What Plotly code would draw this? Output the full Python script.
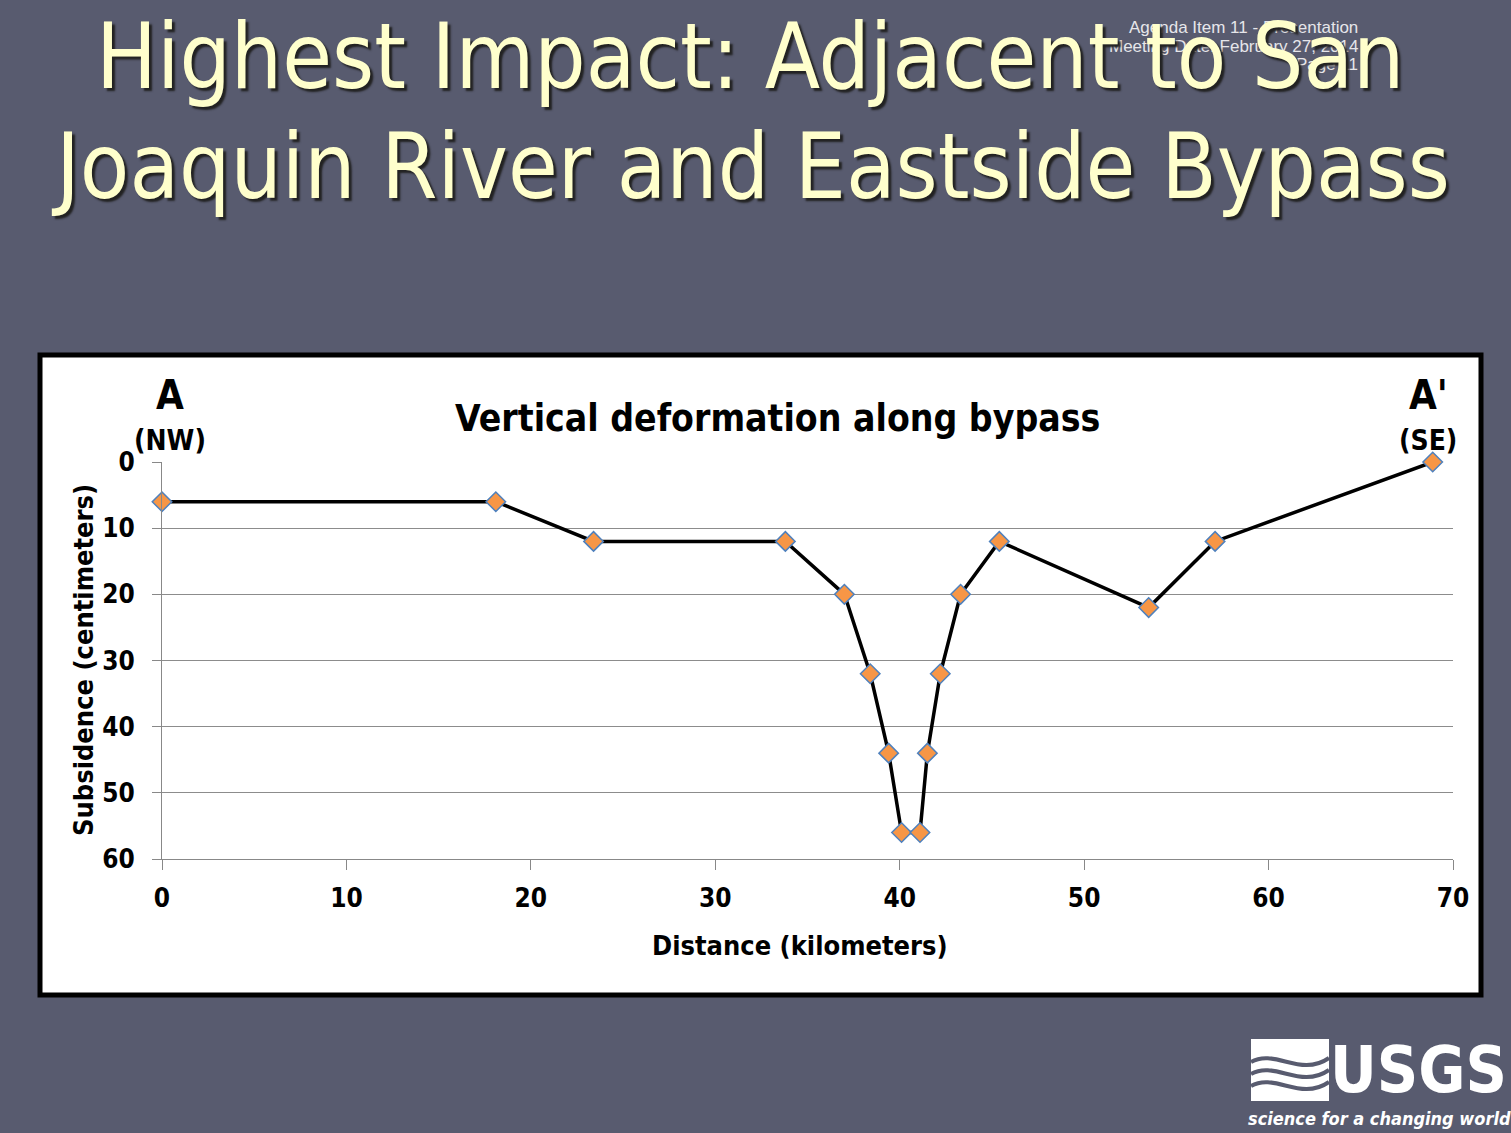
import plotly.graph_objects as go

# ---- data ----
distance_km = [0, 18.1, 23.4, 33.8, 37.0, 38.4, 39.4, 40.1, 41.1, 41.5, 42.2, 43.3, 45.4, 53.5, 57.1, 68.9]
subsidence_cm = [6, 6, 12, 12, 20, 32, 44, 56, 56, 44, 32, 20, 12, 22, 12, 0]
x_ticks = [0, 10, 20, 30, 40, 50, 60, 70]
y_ticks = [0, 10, 20, 30, 40, 50, 60]

W, H = 1511, 1133
L, R, T, B = 162, 1453, 462, 859   # plot area in pixels

def px(x):
    return (x - L) / (R - L)

def py(y):
    return (B - y) / (B - T)

BG = "#585B6F"
CHART_FONT = "Liberation Sans Narrow, DejaVu Sans Condensed, Arial Narrow, sans-serif"
TITLE_FONT = "DejaVu Sans Condensed, Tahoma, DejaVu Sans, sans-serif"

fig = go.Figure()
fig.add_trace(go.Scatter(
    x=distance_km, y=subsidence_cm, mode="lines+markers",
    line=dict(color="black", width=3.5),
    marker=dict(symbol="diamond", size=15, color="#F79646",
                line=dict(color="#4F81BD", width=1.5)),
    showlegend=False, cliponaxis=False,
))

shapes = [
    dict(type="rect", xref="paper", yref="paper", layer="below",
         x0=px(40), x1=px(1481), y0=py(995), y1=py(355),
         fillcolor="white", line=dict(color="black", width=5)),
    # USGS icon box
    dict(type="rect", xref="paper", yref="paper", layer="above",
         x0=px(1251), x1=px(1329), y0=py(1101), y1=py(1039),
         fillcolor="white", line=dict(width=0)),
]
# waves in the USGS icon (decoration)
for dy in (0, 12, 24):
    y0 = 1062 + dy
    path = (f"M {px(1251)} {py(y0)} "
            f"C {px(1275)} {py(y0-14)}, {px(1300)} {py(y0+16)}, {px(1329)} {py(y0-4)}")
    shapes.append(dict(type="path", xref="paper", yref="paper", layer="above",
                       path=path, line=dict(color=BG, width=4)))

annotations = []

def ann(text, x, y, size, color="black", font=CHART_FONT, xanchor="center",
        yanchor="middle", textangle=0, shadow=None, bold=True, italic=False):
    f = dict(family=font, size=size, color=color,
             weight="bold" if bold else "normal",
             style="italic" if italic else "normal")
    if shadow:
        f["shadow"] = shadow
    annotations.append(dict(text=text, x=px(x), y=py(y), xref="paper", yref="paper",
                            xanchor=xanchor, yanchor=yanchor, showarrow=False,
                            font=f, textangle=textangle))

# small header text (behind the title)
HDR = "Liberation Sans, Arial, sans-serif"
ann("Agenda Item 11 - Presentation", 1360, 27, 17, color="#E6E6EA",
    font=HDR, xanchor="right", bold=False)
ann("Meeting Date: February 27, 2014", 1360, 46, 17, color="#E6E6EA",
    font=HDR, xanchor="right", bold=False)
ann("Page 11", 1360, 64, 17, color="#E6E6EA",
    font=HDR, xanchor="right", bold=False)

# slide title
ann("Highest Impact: Adjacent to San", 750, 56, 90, color="#FFFFCC",
    font=TITLE_FONT, bold=False, shadow="3px 3px 2px #222")
ann("Joaquin River and Eastside Bypass", 750, 166, 90, color="#FFFFCC",
    font=TITLE_FONT, bold=False, shadow="3px 3px 2px #222")

# chart texts
ann("Vertical deformation along bypass", 777, 418, 37)
ann("A", 170, 395, 40)
ann("(NW)", 170, 440, 28)
ann("A'", 1428, 395, 40)
ann("(SE)", 1428, 440, 28)
ann("Distance (kilometers)", 800, 945, 27)
ann("Subsidence (centimeters)", 83, 660, 27, textangle=-90)

# USGS logo text
ann("USGS", 1418, 1070, 64, color="white", font=CHART_FONT)
ann("science for a changing world", 1379, 1118, 18, color="white",
    font=CHART_FONT, italic=True)

fig.update_layout(
    width=W, height=H,
    margin=dict(l=L, r=W - R, t=T, b=H - B, pad=0),
    paper_bgcolor=BG, plot_bgcolor="rgba(0,0,0,0)",
    shapes=shapes, annotations=annotations,
    xaxis=dict(range=[0, 70], tickvals=x_ticks, showgrid=False,
               showline=True, linecolor="#888888", linewidth=1,
               ticks="outside", ticklen=10, tickcolor="#888888",
               tickfont=dict(family=CHART_FONT, size=26, color="black", weight="bold"),
               ticklabelstandoff=6, zeroline=False, fixedrange=True),
    yaxis=dict(range=[60, 0], tickvals=y_ticks, showgrid=True,
               gridcolor="#8C8C8C", gridwidth=1,
               showline=True, linecolor="#888888", linewidth=1,
               ticks="outside", ticklen=9, tickcolor="#888888",
               tickfont=dict(family=CHART_FONT, size=26, color="black", weight="bold"),
               ticklabelstandoff=12, zeroline=False, fixedrange=True),
)

fig.write_html(
    "out.html",
    config={"displayModeBar": False},
    post_script="document.body.style.margin='0';document.body.style.overflow='hidden';"
                f"document.body.style.background='{BG}';",
)
